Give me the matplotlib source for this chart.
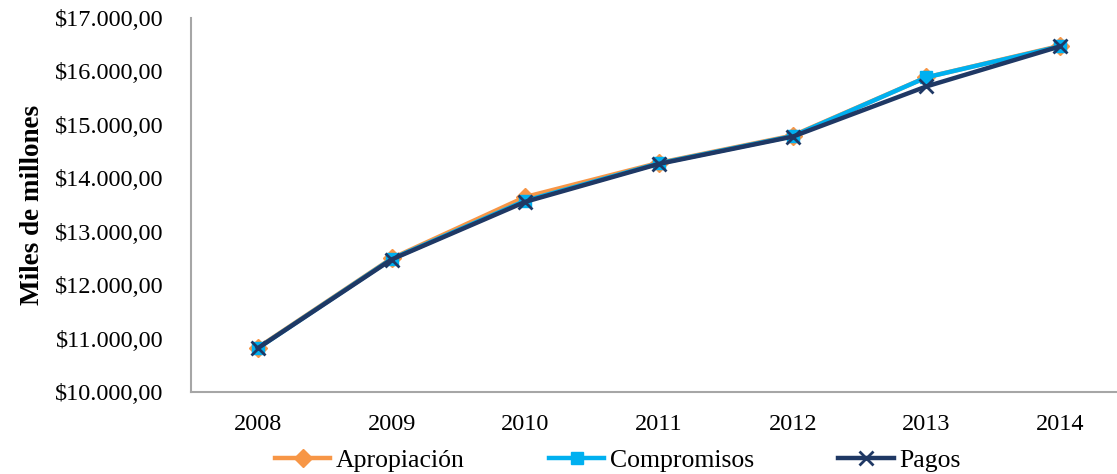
import matplotlib
matplotlib.use("Agg")
import matplotlib.pyplot as plt
from matplotlib.ticker import FuncFormatter

years = ["2008", "2009", "2010", "2011", "2012", "2013", "2014"]
apropiacion = [10830, 12500, 13650, 14290, 14800, 15890, 16480]
compromisos = [10820, 12490, 13580, 14280, 14790, 15890, 16470]
pagos = [10820, 12480, 13560, 14270, 14780, 15720, 16470]
yticks = [10000, 11000, 12000, 13000, 14000, 15000, 16000, 17000]

plt.rcParams['font.family'] = ['Liberation Serif', 'DejaVu Serif']

fig = plt.figure(figsize=(11.17, 4.74), dpi=100)
ax = fig.add_axes([0.171, 0.173, 0.838, 0.789])

x = range(len(years))
ax.plot(x, apropiacion, color='#F79646', lw=3.2, marker='D', ms=9.5, label='Apropiación', zorder=2)
ax.plot(x, compromisos, color='#00B0F0', lw=3.2, marker='s', ms=9, label='Compromisos', zorder=3)
ax.plot(x, pagos, color='#1F3864', lw=3.2, marker='x', ms=10, mew=2, label='Pagos', zorder=4)

ax.set_xlim(-0.5, len(years) - 0.5)
ax.set_ylim(10000, 17000)
ax.set_xticks(list(x))
ax.set_xticklabels(years)
ax.set_yticks(yticks)

def fmt(v, pos):
    s = f"{v:,.2f}"
    s = s.replace(",", "X").replace(".", ",").replace("X", ".")
    return "$" + s

ax.yaxis.set_major_formatter(FuncFormatter(fmt))
ax.tick_params(axis='both', length=0, labelsize=17.5, colors='black')
ax.tick_params(axis='y', pad=20)
ax.tick_params(axis='x', pad=16)
for s in ['top', 'right']:
    ax.spines[s].set_visible(False)
for s in ['left', 'bottom']:
    ax.spines[s].set_color('#a6a6a6')
    ax.spines[s].set_linewidth(1.5)

ax.set_ylabel('Miles de millones', fontsize=19.5, fontweight='bold')
ax.yaxis.set_label_coords(-0.156, 0.5)

fig.legend(loc='center', bbox_to_anchor=(0.553, 0.028), ncol=3, frameon=False,
           fontsize=18.5, handlelength=2.15, columnspacing=3.3, handletextpad=0.2,
           borderpad=0, borderaxespad=0)

fig.savefig('out.png', dpi=100)
